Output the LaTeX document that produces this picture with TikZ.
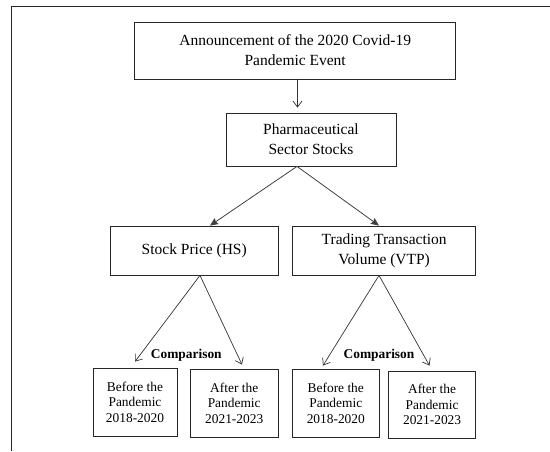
\documentclass[tikz,border=0pt]{standalone}
\usepackage{fontspec}
\setmainfont{Liberation Serif}
\usetikzlibrary{arrows.meta}
\begin{document}
\begin{tikzpicture}[x=1pt,y=-1pt,
    box/.style={draw=black!85,line width=0.8pt,align=center,inner sep=0pt,font=\fontsize{15.5}{20}\selectfont},
    cmpbox/.style={draw=black!85,line width=0.8pt,align=center,inner sep=0pt,minimum height=68pt,font=\fontsize{13.4}{15.5}\selectfont},
    openarr/.style={draw=black!80,line width=0.7pt,-{Straight Barb[length=6pt,width=9pt]}},
    triarr/.style={draw=black!75,line width=0.8pt,-{Stealth[length=8pt,width=7pt,inset=1pt]}},
    cmplabel/.style={font=\bfseries\fontsize{13.4}{15.5}\selectfont}]
    \useasboundingbox (0,0) rectangle (550,451);
    % frame
    \draw[black!85,line width=0.8pt] (11.5,451) -- (11.5,6) -- (550,6);
    % boxes
    \node[box,minimum width=321pt,minimum height=57pt] (event) at (295.2,50.5) {Announcement of the 2020 Covid-19\\Pandemic Event};
    \node[box,minimum width=170pt,minimum height=53pt] (pharma) at (311,139.5) {Pharmaceutical\\Sector Stocks};
    \node[box,minimum width=167.5pt,minimum height=49pt] (hs) at (194.25,250.5) {Stock Price (HS)};
    \node[box,minimum width=183.2pt,minimum height=49pt] (vtp) at (384.2,250.5) {Trading Transaction\\Volume (VTP)};
    \node[cmpbox,minimum width=84pt] (hsbefore) at (135,402) {Before the\\Pandemic\\2018-2020};
    \node[cmpbox,minimum width=87.5pt] (hsafter) at (234.2,403) {After the\\Pandemic\\2021-2023};
    \node[cmpbox,minimum width=86.4pt] (vtpbefore) at (335.8,403) {Before the\\Pandemic\\2018-2020};
    \node[cmpbox,minimum width=87.4pt,minimum height=67pt] (vtpafter) at (432.1,404.5) {After the\\Pandemic\\2021-2023};
    \node[cmplabel] (hscmp) at (186.3,355) {Comparison};
    \node[cmplabel] (vtpcmp) at (379,355) {Comparison};
    % connectors
    \draw[openarr] ([xshift=2.3pt]event.south) -- ([xshift=-13.5pt,yshift=5pt]pharma.north);
    \draw[triarr] ([xshift=-14pt]pharma.south) -- ([xshift=15.75pt]hs.north);
    \draw[triarr] ([xshift=-14pt]pharma.south) -- ([xshift=-5.2pt]vtp.north);
    \draw[openarr] ([xshift=5.75pt]hs.south) -- ([yshift=6pt]hsbefore.north);
    \draw[openarr] ([xshift=5.75pt]hs.south) -- ([xshift=7.8pt,yshift=4pt]hsafter.north);
    \draw[openarr] ([xshift=-5.2pt]vtp.south) -- ([xshift=-12.8pt,yshift=3pt]vtpbefore.north);
    \draw[openarr] ([xshift=-5.2pt]vtp.south) -- ([xshift=-2.6pt,yshift=5pt]vtpafter.north);
\end{tikzpicture}
\end{document}
